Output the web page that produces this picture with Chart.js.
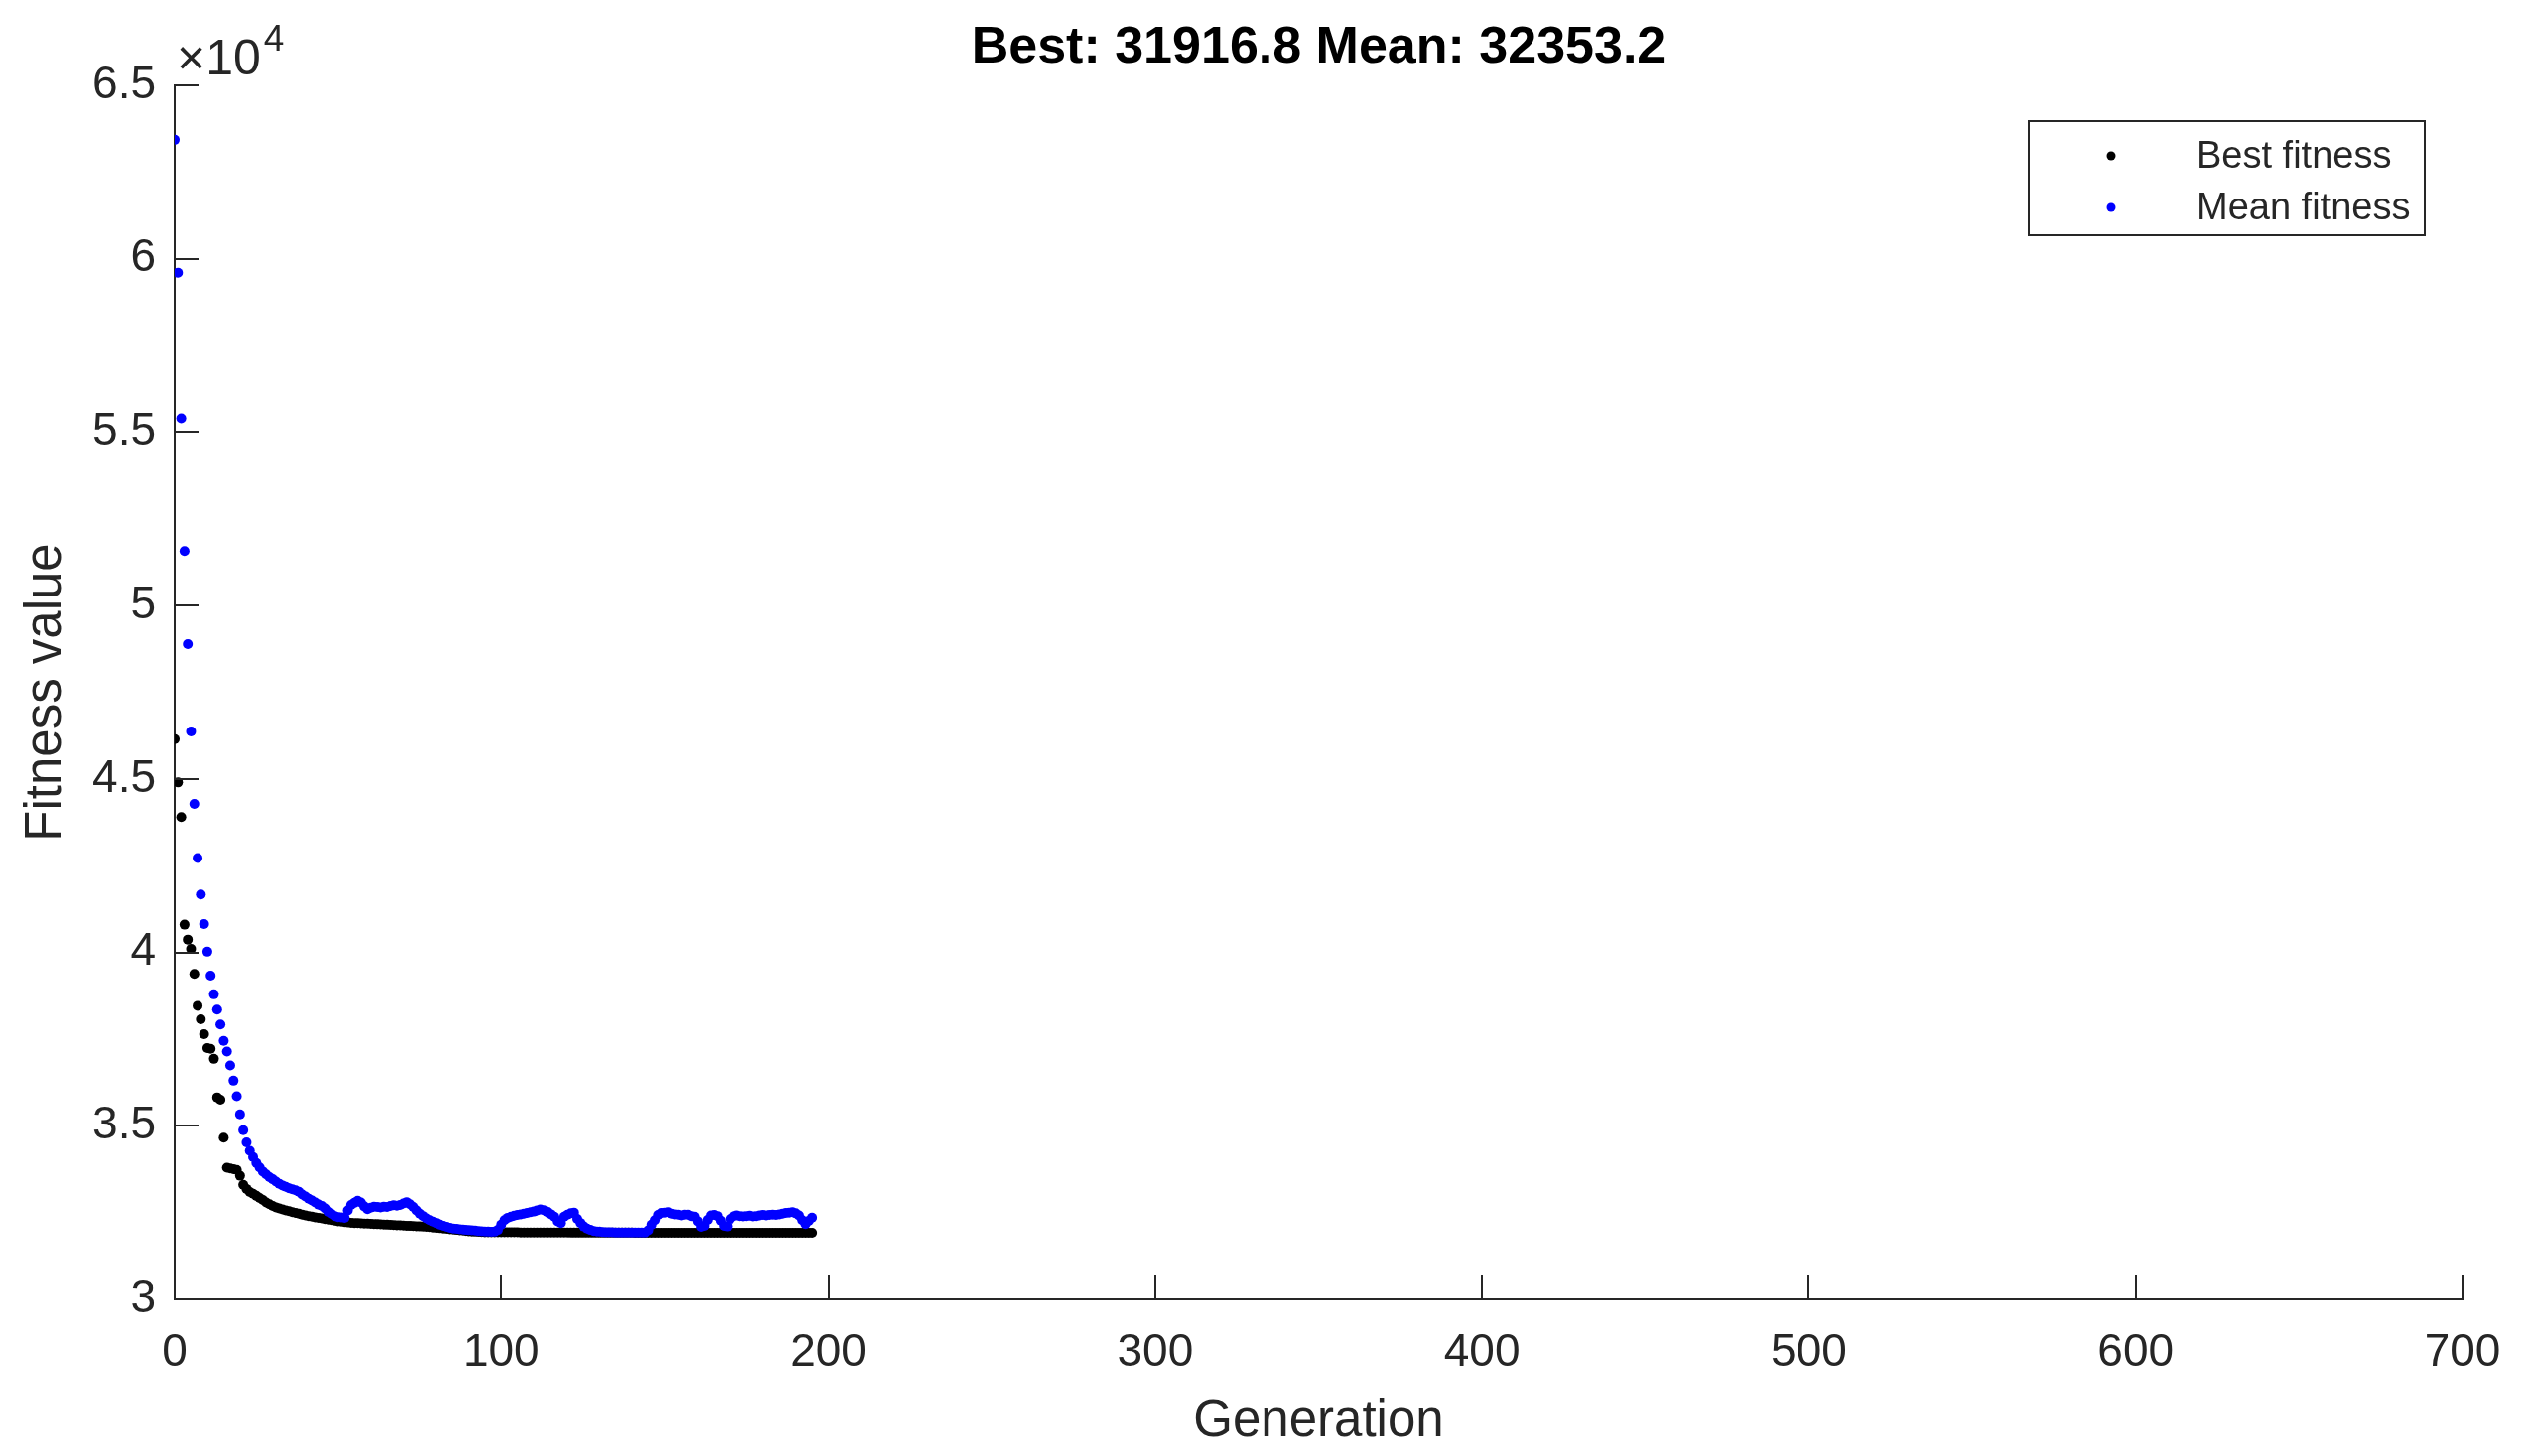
<!DOCTYPE html>
<html>
<head>
<meta charset="utf-8">
<title>GA fitness</title>
<script src="https://cdn.jsdelivr.net/npm/chart.js@4.4.1/dist/chart.umd.min.js"></script>
<style>
  html, body { margin: 0; padding: 0; background: #fff; }
  #wrap { width: 2550px; height: 1467px; }
</style>
</head>
<body>
<div id="wrap"><canvas id="gaChart" width="2550" height="1467"></canvas></div>
<script>
// Best / mean fitness per generation (index = generation number)
const bestFitness = [
  46150, 44900, 43900, 40800, 40370, 40100, 39380, 38460, 38070, 37640,
  37240, 37220, 36930, 35820, 35750, 34660, 33790, 33770, 33750, 33730,
  33560, 33300, 33180, 33090, 33040, 32980, 32920, 32860, 32790, 32740,
  32690, 32650, 32620, 32590, 32560, 32540, 32510, 32490, 32470, 32440,
  32420, 32400, 32380, 32360, 32350, 32330, 32310, 32295, 32280, 32265,
  32250, 32240, 32225, 32215, 32205, 32200, 32195, 32190, 32185, 32180,
  32175, 32170, 32165, 32160, 32155, 32150, 32145, 32140, 32135, 32130,
  32125, 32120, 32115, 32110, 32105, 32100, 32095, 32090, 32080, 32070,
  32060, 32050, 32040, 32030, 32020, 32010, 32000, 31990, 31980, 31970,
  31960, 31955, 31950, 31945, 31940, 31935, 31930, 31930, 31930, 31930,
  31930, 31930, 31930, 31930, 31930, 31930, 31926, 31926, 31926, 31926,
  31926, 31926, 31926, 31926, 31926, 31926, 31926, 31926, 31926, 31926,
  31926, 31922, 31922, 31922, 31922, 31922, 31922, 31922, 31922, 31922,
  31922, 31922, 31922, 31922, 31922, 31922, 31922, 31922, 31922, 31922,
  31922, 31919, 31919, 31919, 31919, 31919, 31919, 31919, 31919, 31919,
  31919, 31919, 31919, 31919, 31919, 31919, 31919, 31919, 31919, 31919,
  31919, 31919, 31919, 31919, 31919, 31919, 31916.8, 31916.8, 31916.8, 31916.8,
  31916.8, 31916.8, 31916.8, 31916.8, 31916.8, 31916.8, 31916.8, 31916.8, 31916.8, 31916.8,
  31916.8, 31916.8, 31916.8, 31916.8, 31916.8, 31916.8, 31916.8, 31916.8, 31916.8, 31916.8,
  31916.8, 31916.8, 31916.8, 31916.8, 31916.8, 31916.8
];

const meanFitness = [
  63430, 59600, 55400, 51570, 48890, 46370, 44280, 42720, 41670, 40820,
  40020, 39330, 38790, 38350, 37920, 37450, 37140, 36740, 36300, 35850,
  35330, 34870, 34520, 34280, 34100, 33930, 33800, 33680, 33600, 33520,
  33460, 33390, 33330, 33280, 33240, 33200, 33170, 33140, 33100, 33020,
  32960, 32900, 32850, 32790, 32730, 32690, 32620, 32520, 32460, 32400,
  32370, 32360, 32350, 32560, 32720, 32780, 32840, 32790, 32680, 32600,
  32640, 32670, 32660, 32650, 32670, 32660, 32690, 32710, 32700, 32720,
  32760, 32800, 32740, 32660, 32560, 32470, 32400, 32330, 32280, 32240,
  32200, 32150, 32120, 32090, 32060, 32040, 32030, 32020, 32010, 32000,
  31995, 31990, 31980, 31970, 31960, 31955, 31950, 31945, 31950, 32000,
  32150, 32280, 32350, 32380, 32410, 32430, 32450, 32470, 32490, 32510,
  32530, 32560, 32590, 32570, 32520, 32450, 32380, 32250, 32200, 32380,
  32440, 32480, 32500, 32320, 32200, 32100, 32040, 32000, 31970, 31955,
  31950, 31940, 31935, 31930, 31930, 31928, 31928, 31926, 31926, 31925,
  31925, 31924, 31924, 31923, 31925, 31990, 32150, 32280, 32430, 32490,
  32500, 32510, 32470, 32450, 32440, 32420, 32440, 32440, 32400, 32380,
  32250, 32090, 32120, 32290, 32420, 32430, 32400, 32270, 32120, 32100,
  32320, 32400, 32420, 32400, 32390, 32400, 32410, 32390, 32400, 32420,
  32430, 32420, 32430, 32440, 32430, 32450, 32470, 32490, 32500, 32510,
  32480, 32420, 32280, 32170, 32260, 32353.2
];

const xTickValues = [0, 100, 200, 300, 400, 500, 600, 700];
const yTickValues = [30000, 35000, 40000, 45000, 50000, 55000, 60000, 65000];
const yTickLabels = ['3', '3.5', '4', '4.5', '5', '5.5', '6', '6.5'];

const FONT = '"Liberation Sans", Arial, Helvetica, sans-serif';
const AXIS_COLOR = '#262626';
const TICK_LEN = 24;

const toPoints = arr => arr.map((v, gen) => ({ x: gen, y: v }));

// inward tick marks, title, x10^4 multiplier and boxed legend
const decorations = {
  id: 'decorations',
  afterDraw(chart) {
    const { ctx, chartArea: a, scales: { x, y } } = chart;
    ctx.save();

    ctx.strokeStyle = AXIS_COLOR;
    ctx.lineWidth = 2;
    ctx.beginPath();
    xTickValues.forEach(v => {
      const px = Math.round(x.getPixelForValue(v));
      ctx.moveTo(px, a.bottom);
      ctx.lineTo(px, a.bottom - TICK_LEN);
    });
    yTickValues.forEach(v => {
      const py = Math.round(y.getPixelForValue(v));
      ctx.moveTo(a.left, py);
      ctx.lineTo(a.left + TICK_LEN, py);
    });
    ctx.stroke();

    // title
    const best = bestFitness[bestFitness.length - 1];
    const mean = meanFitness[meanFitness.length - 1];
    ctx.fillStyle = '#000';
    ctx.font = `bold 52px ${FONT}`;
    ctx.textAlign = 'center';
    ctx.textBaseline = 'alphabetic';
    ctx.fillText(`Best: ${best} Mean: ${mean}`, (a.left + a.right) / 2, 63);

    // axis multiplier
    ctx.fillStyle = AXIS_COLOR;
    ctx.textAlign = 'left';
    ctx.font = `50px ${FONT}`;
    const base = '\u00d710';
    ctx.fillText(base, a.left + 2, 75);
    const w = ctx.measureText(base).width;
    ctx.font = `37px ${FONT}`;
    ctx.fillText('4', a.left + 2 + w + 3, 51);

    // legend
    const lx = 2044, ly = 122, lw = 399, lh = 115;
    ctx.fillStyle = '#fff';
    ctx.fillRect(lx, ly, lw, lh);
    ctx.strokeStyle = AXIS_COLOR;
    ctx.lineWidth = 2;
    ctx.strokeRect(lx, ly, lw, lh);
    chart.data.datasets.forEach((ds, i) => {
      const cy = 157 + i * 52;
      ctx.fillStyle = ds.backgroundColor;
      ctx.beginPath();
      ctx.arc(2127, cy, 4.5, 0, Math.PI * 2);
      ctx.fill();
      ctx.fillStyle = AXIS_COLOR;
      ctx.font = `38px ${FONT}`;
      ctx.textBaseline = 'middle';
      ctx.fillText(ds.label, 2213, cy + 2);
    });

    ctx.restore();
  }
};

const ctx = document.getElementById('gaChart').getContext('2d');
new Chart(ctx, {
  type: 'scatter',
  data: {
    datasets: [
      {
        label: 'Best fitness',
        data: toPoints(bestFitness),
        backgroundColor: '#000000',
        pointRadius: 5,
        pointBorderWidth: 0,
        order: 1
      },
      {
        label: 'Mean fitness',
        data: toPoints(meanFitness),
        backgroundColor: '#0000ff',
        pointRadius: 5,
        pointBorderWidth: 0,
        order: 0
      }
    ]
  },
  options: {
    responsive: false,
    animation: false,
    layout: { padding: { left: 0, top: 86, right: 69, bottom: 0 } },
    plugins: {
      legend: { display: false },
      title: { display: false },
      tooltip: { enabled: false }
    },
    scales: {
      x: {
        type: 'linear',
        min: 0,
        max: 700,
        afterBuildTicks: s => { s.ticks = xTickValues.map(v => ({ value: v })); },
        afterFit: s => { s.height = 158; },
        grid: { display: false, drawTicks: false },
        border: { display: true, color: AXIS_COLOR, width: 2 },
        ticks: {
          color: AXIS_COLOR,
          font: { family: FONT, size: 46 },
          padding: 27,
          maxRotation: 0,
          autoSkip: false
        },
        title: {
          display: true,
          text: 'Generation',
          color: AXIS_COLOR,
          font: { family: FONT, size: 51 },
          padding: { top: 0, bottom: 3 }
        }
      },
      y: {
        type: 'linear',
        min: 30000,
        max: 65000,
        afterBuildTicks: s => { s.ticks = yTickValues.map(v => ({ value: v })); },
        afterFit: s => { s.width = 176; },
        grid: { display: false, drawTicks: false },
        border: { display: true, color: AXIS_COLOR, width: 2 },
        ticks: {
          color: AXIS_COLOR,
          font: { family: FONT, size: 46 },
          padding: 19,
          autoSkip: false,
          callback: (v, i) => yTickLabels[i]
        },
        title: {
          display: true,
          text: 'Fitness value',
          color: AXIS_COLOR,
          font: { family: FONT, size: 51 },
          padding: { top: 16, bottom: 0 }
        }
      }
    }
  },
  plugins: [decorations]
});
</script>
</body>
</html>
